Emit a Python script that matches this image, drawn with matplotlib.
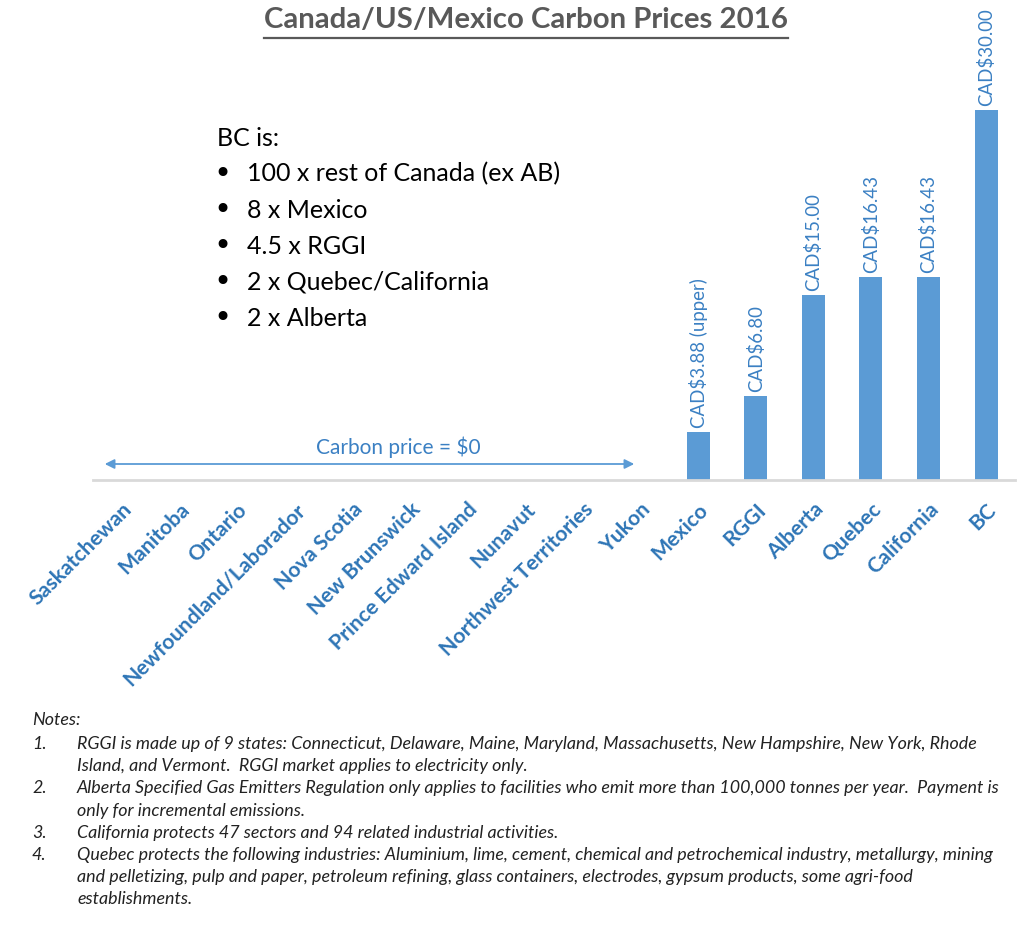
import matplotlib
matplotlib.use("Agg")
import matplotlib.pyplot as plt

categories = ["Saskatchewan", "Manitoba", "Ontario", "Newfoundland/Laborador",
              "Nova Scotia", "New Brunswick", "Prince Edward Island", "Nunavut",
              "Northwest Territories", "Yukon", "Mexico", "RGGI", "Alberta",
              "Quebec", "California", "BC"]
prices = [0, 0, 0, 0, 0, 0, 0, 0, 0, 0, 3.88, 6.80, 15.00, 16.43, 16.43, 30.00]
value_labels = ["", "", "", "", "", "", "", "", "", "",
                "CAD$3.88 (upper)", "CAD$6.80", "CAD$15.00", "CAD$16.43",
                "CAD$16.43", "CAD$30.00"]

title = "Canada/US/Mexico Carbon Prices 2016"
box_head = "BC is:"
box_items = ["100 x rest of Canada (ex AB)", "8 x Mexico", "4.5 x RGGI",
             "2 x Quebec/California", "2 x Alberta"]
zero_text = "Carbon price = $0"
notes_head = "Notes:"
notes = [
    ("1.", ["RGGI is made up of 9 states: Connecticut, Delaware, Maine, Maryland, Massachusetts, New Hampshire, New York, Rhode",
            "Island, and Vermont.  RGGI market applies to electricity only."]),
    ("2.", ["Alberta Specified Gas Emitters Regulation only applies to facilities who emit more than 100,000 tonnes per year.  Payment is",
            "only for incremental emissions."]),
    ("3.", ["California protects 47 sectors and 94 related industrial activities."]),
    ("4.", ["Quebec protects the following industries: Aluminium, lime, cement, chemical and petrochemical industry, metallurgy, mining",
            "and pelletizing, pulp and paper, petroleum refining, glass containers, electrodes, gypsum products, some agri-food",
            "establishments."]),
]

W, H = 1024, 932
fig = plt.figure(figsize=(W / 100, H / 100), dpi=100)
FONT = "Lato"
BAR = "#5b9bd5"
LBL = "#2e75b6"
VAL = "#3b80c3"

def px(x, y):
    return x / W, 1 - y / H

ax = fig.add_axes([93 / W, 1 - 480 / H, (1015 - 93) / W, (480 - 110) / H])
xs = list(range(len(categories)))
ax.bar(xs, prices, width=0.4, color=BAR)
ax.set_xlim(-0.5, len(categories) - 0.5)
ax.set_ylim(0, 30)
for s in ["top", "right", "left"]:
    ax.spines[s].set_visible(False)
ax.spines["bottom"].set_color("#d9d9d9")
ax.spines["bottom"].set_linewidth(2)
ax.set_yticks([])
ax.set_xticks(xs)
ax.set_xticklabels(categories, rotation=45, ha="right", rotation_mode="anchor",
                   fontsize=15.3, fontweight="bold", color=LBL, family=FONT)
ax.tick_params(axis="x", length=0, pad=14)
ax.set_facecolor("none")

for x, v, t in zip(xs, prices, value_labels):
    if t:
        ax.annotate(t, (x, v), xytext=(0, 3), textcoords="offset points",
                    rotation=90, ha="center", va="bottom", fontsize=13.4,
                    color=VAL, family=FONT, annotation_clip=False)

# title
tx, ty = px(526, 20)
t = fig.text(tx, ty, title, ha="center", va="center", fontsize=21.2,
             fontweight="bold", color="#595959", family=FONT)
fig.canvas.draw()
bb = t.get_window_extent()
uy = 1 - 38 / H
fig.add_artist(plt.Line2D([bb.x0 / W, bb.x1 / W], [uy, uy],
                          color="#595959", lw=1.6))

# BC box
fig.text(*px(217, 138), box_head, ha="left", va="center", fontsize=18,
         color="black", family=FONT)
for i, item in enumerate(box_items):
    y = 174 + i * 36
    fig.text(*px(222, y), "\u2022", ha="center", va="center", fontsize=22,
             color="black", family="DejaVu Sans")
    fig.text(*px(247, y), item, ha="left", va="center", fontsize=18,
             color="black", family=FONT)

# zero arrow
fig.add_artist(matplotlib.patches.FancyArrowPatch(
    px(102, 464), px(637, 464), arrowstyle="<|-|>", mutation_scale=14,
    color=BAR, lw=1.3, transform=fig.transFigure))
fig.text(*px(398, 447), zero_text, ha="center", va="center", fontsize=15,
         color=VAL, family=FONT)

# notes
NS = 12.9
fig.text(*px(32, 720), notes_head, ha="left", va="center", fontsize=NS,
         style="italic", color="#222222", family=FONT)
y = 744
for num, lines in notes:
    fig.text(*px(32, y), num, ha="left", va="center", fontsize=NS,
             style="italic", color="#222222", family=FONT)
    for ln in lines:
        fig.text(*px(77, y), ln, ha="left", va="center", fontsize=NS,
                 style="italic", color="#222222", family=FONT)
        y += 22.2

fig.savefig("out.png", dpi=100, facecolor="white")
